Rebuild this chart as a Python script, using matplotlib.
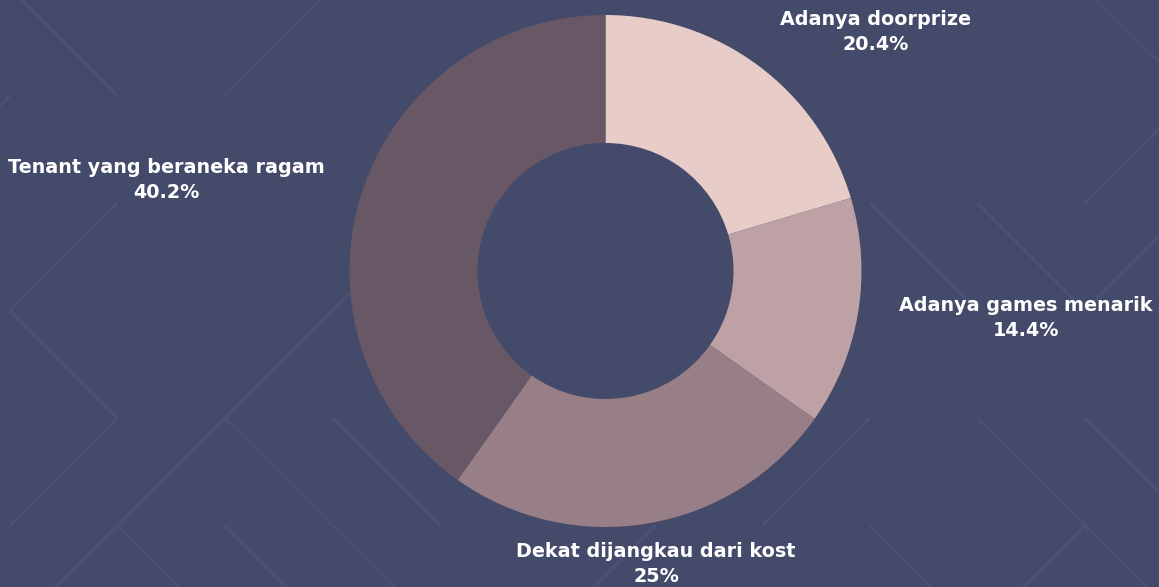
import matplotlib.pyplot as plt
from matplotlib.lines import Line2D

# data
labels = ['Adanya doorprize', 'Adanya games menarik', 'Dekat dijangkau dari kost', 'Tenant yang beraneka ragam']
values = [20.4, 14.4, 25, 40.2]
pct_text = ['20.4%', '14.4%', '25%', '40.2%']
colors = ['#E8CCC8', '#BDA1A4', '#977E87', '#685866']

# label centres in pixels (x, y from top)
label_pos = [(876, 32), (1026, 318), (656, 564), (166, 180)]

W, H = 1159, 587
bg = '#444A6A'

fig = plt.figure(figsize=(W / 100, H / 100), dpi=100, facecolor=bg)
ax = fig.add_axes([0, 0, 1, 1])
ax.set_facecolor(bg)

def px(x, y):
    return x, H - y

# faint diagonal background pattern (lattice nodes ~107.5px apart)
segs = [((0, 0), (1, 1)), ((2, 1), (3, 0)), ((0, 1), (-1, 2)), ((1, 2), (0, 3)),
        ((0, 3), (1, 4)), ((1, 4), (0, 5)), ((2, 4), (3, 3)), ((3, 3), (4, 2)),
        ((2, 4), (1, 5)), ((1, 5), (0, 6)), ((2, 4), (3, 5)), ((3, 5), (4, 6)),
        ((1, 5), (2, 6)), ((3, 4), (4, 5)), ((2, 5), (3, 6)), ((10, 2), (11, 1)),
        ((8, 2), (9, 3)), ((9, 2), (10, 3)), ((11, 2), (10, 3)), ((9, 4), (10, 5)),
        ((10, 5), (11, 6)), ((10, 4), (11, 5)), ((10, 5), (9, 6)), ((8, 5), (9, 6)),
        ((10, 0), (11, 1)), ((8, 4), (7, 5)), ((5, 6), (6, 5))]
for a, b in segs:
    x0, y0 = px(10 + 107.5 * a[0], -12 + 107.5 * a[1])
    x1, y1 = px(10 + 107.5 * b[0], -12 + 107.5 * b[1])
    ax.add_line(Line2D([x0, x1], [y0, y1], color='#4A5174', lw=2.4,
                       solid_capstyle='butt', zorder=0))

cx, cy = px(605.5, 271)
ax.pie(values, colors=colors, startangle=90, counterclock=False,
       radius=256, center=(cx, cy),
       wedgeprops=dict(width=128, linewidth=0))

for lab, p, (x, y) in zip(labels, pct_text, label_pos):
    tx, ty = px(x, y)
    ax.text(tx, ty, lab + '\n' + p, ha='center', va='center', color='white',
            fontsize=13.8, fontweight='bold', family='DejaVu Sans',
            linespacing=1.45)

ax.set_xlim(0, W)
ax.set_ylim(0, H)
ax.set_aspect('equal')
ax.axis('off')

fig.savefig('out.png', dpi=100, facecolor=bg)
